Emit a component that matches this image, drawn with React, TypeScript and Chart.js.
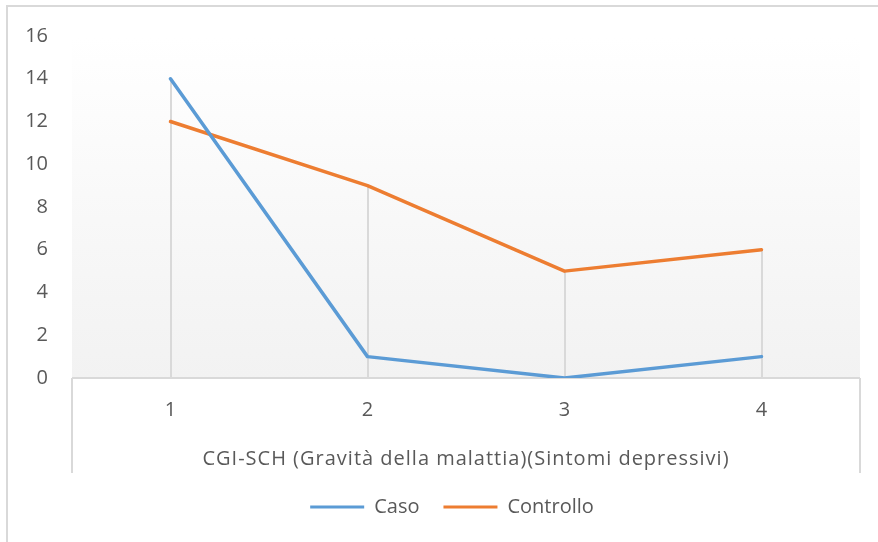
import React, { useEffect, useRef } from "react";
import { Chart, registerables } from "chart.js";

Chart.register(...registerables);

const categories = ["1", "2", "3", "4"];
const caso = [14, 1, 0, 1];
const controllo = [12, 9, 5, 6];
const yTicks = { min: 0, max: 16, step: 2 };
const xTitle = "CGI-SCH (Gravità della malattia)(Sintomi depressivi)";
const seriesNames = ["Caso", "Controllo"];

const FONT = "'Open Sans', Lato, sans-serif";
const TEXT = "#595959";
const LINE = "#d9d9d9";

const decoPlugin = {
  id: "deco",
  afterLayout(chart: any) {
    if (chart.legend) {
      chart.legend.left += 22;
      chart.legend.right += 22;
    }
  },
  beforeDraw(chart: any) {
    const { ctx, chartArea } = chart;
    ctx.save();
    ctx.fillStyle = "#ffffff";
    ctx.fillRect(0, 0, chart.width, chart.height);
    ctx.fillStyle = LINE;
    ctx.fillRect(6, 5, chart.width - 6, 2);
    ctx.fillRect(6, 5, 2, chart.height - 5);
    const g = ctx.createLinearGradient(0, chartArea.top, 0, chartArea.bottom);
    g.addColorStop(0, "#ffffff");
    g.addColorStop(1, "#f2f2f2");
    ctx.fillStyle = g;
    ctx.fillRect(chartArea.left, chartArea.top, chartArea.right - chartArea.left, chartArea.bottom - chartArea.top);
    ctx.restore();
  },
  beforeDatasetsDraw(chart: any) {
    const { ctx } = chart;
    const xs = chart.scales.x;
    const ys = chart.scales.y;
    ctx.save();
    ctx.strokeStyle = LINE;
    ctx.lineWidth = 2;
    categories.forEach((_, i) => {
      const vals = chart.data.datasets.map((d: any) => d.data[i] as number);
      const top = Math.max(...vals);
      const x = Math.round(xs.getPixelForValue(i));
      ctx.beginPath();
      ctx.moveTo(x, ys.getPixelForValue(top));
      ctx.lineTo(x, ys.getPixelForValue(0));
      ctx.stroke();
    });
    ctx.beginPath();
    ctx.moveTo(xs.left, xs.top);
    ctx.lineTo(xs.right, xs.top);
    ctx.moveTo(xs.left, xs.top);
    ctx.lineTo(xs.left, xs.bottom);
    ctx.moveTo(xs.right, xs.top);
    ctx.lineTo(xs.right, xs.bottom);
    ctx.stroke();
    ctx.restore();
  },
  afterDraw(chart: any) {
    const { ctx } = chart;
    const xs = chart.scales.x;
    ctx.save();
    ctx.font = `20px ${FONT}`;
    (ctx as any).letterSpacing = "1px";
    ctx.fillStyle = TEXT;
    ctx.textAlign = "center";
    ctx.textBaseline = "middle";
    ctx.fillText(xTitle, (xs.left + xs.right) / 2, xs.bottom - 14);
    ctx.restore();
  },
};

export default function App() {
  const ref = useRef<HTMLCanvasElement>(null);
  useEffect(() => {
    if (!ref.current) return;
    const mk = (label: string, data: number[], color: string) => ({
      label,
      data,
      borderColor: color,
      backgroundColor: color,
      borderWidth: 3.5,
      pointRadius: 0,
      borderCapStyle: "round",
      borderJoinStyle: "round",
      tension: 0,
    });
    const chart = new Chart(ref.current, {
      type: "line",
      data: {
        labels: categories,
        datasets: [mk(seriesNames[0], caso, "#5B9BD5"), mk(seriesNames[1], controllo, "#ED7D31")],
      },
      options: {
        responsive: false,
        animation: false,
        layout: { padding: { left: 0, right: 18, top: 35, bottom: 15 } },
        plugins: {
          tooltip: { enabled: false },
          legend: {
            position: "bottom",
            labels: {
              boxWidth: 54,
              boxHeight: 3,
              padding: 24,
              color: TEXT,
              font: { family: FONT, size: 20 },
              generateLabels(c: any) {
                const items = Chart.defaults.plugins.legend.labels.generateLabels(c);
                return items.map((it: any) => ({ ...it, lineWidth: 0 }));
              },
            },
          },
        },
        scales: {
          x: {
            offset: true,
            grid: { display: false, drawTicks: false },
            border: { display: false },
            ticks: { color: TEXT, font: { family: FONT, size: 20 }, padding: 20 },
            afterFit(scale: any) {
              scale.height = 95;
            },
          },
          y: {
            min: yTicks.min,
            max: yTicks.max,
            grid: { display: false, drawTicks: false },
            border: { display: false },
            ticks: {
              stepSize: yTicks.step,
              color: TEXT,
              font: { family: FONT, size: 20 },
              padding: 24,
            },
            afterFit(scale: any) {
              scale.width = 72;
            },
          },
        },
      },
      plugins: [decoPlugin],
    } as any);
    return () => chart.destroy();
  }, []);
  return (
    <div style={{ position: "fixed", left: 0, top: 0, width: 878, height: 542 }}>
      <canvas ref={ref} width={878} height={542} style={{ display: "block" }} />
    </div>
  );
}
